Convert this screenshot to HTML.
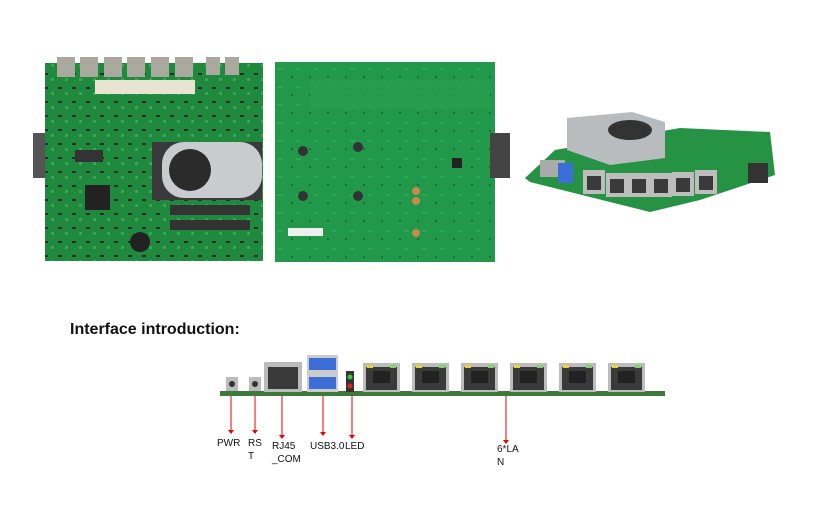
<!DOCTYPE html>
<html><head><meta charset="utf-8"><style>
html,body{margin:0;padding:0;background:#fff;width:826px;height:505px;overflow:hidden}
svg{display:block}
text{font-family:"Liberation Sans",sans-serif}
</style></head><body>
<svg width="826" height="505" viewBox="0 0 826 505" xmlns="http://www.w3.org/2000/svg">
<defs>
<pattern id="pcb" width="14" height="14" patternUnits="userSpaceOnUse">
<rect width="14" height="14" fill="#1f8a3e"/>
<rect x="2" y="3" width="4" height="2" fill="#2a2a2a"/>
<rect x="9" y="8" width="3" height="3" fill="#3aa357"/>
</pattern>
<pattern id="pcb2" width="18" height="18" patternUnits="userSpaceOnUse">
<rect width="18" height="18" fill="#22994a"/>
<rect x="3" y="4" width="2" height="2" fill="#1c6f36"/>
<rect x="8" y="14" width="5" height="2" fill="#2aa955"/>
</pattern>
<g id="rj">
<rect x="0" y="0" width="37" height="29" fill="#bcbcbc"/>
<rect x="3" y="4" width="31" height="23" fill="#3a3a3a"/>
<rect x="10" y="8" width="17" height="12" fill="#222"/>
<rect x="4" y="2" width="6" height="3" fill="#e8d33a"/>
<rect x="27" y="2" width="6" height="3" fill="#7fd66a"/>
</g>
</defs>

<!-- Board 1 -->
<rect x="33" y="133" width="17" height="45" fill="#555"/>
<rect x="45" y="63" width="218" height="198" fill="url(#pcb)"/>
<g fill="#a9a9a0">
<rect x="57" y="57" width="18" height="20"/><rect x="80" y="57" width="18" height="20"/><rect x="104" y="57" width="18" height="20"/><rect x="127" y="57" width="18" height="20"/><rect x="151" y="57" width="18" height="20"/><rect x="175" y="57" width="18" height="20"/>
<rect x="206" y="57" width="14" height="18"/><rect x="225" y="57" width="14" height="18"/>
</g>
<rect x="95" y="80" width="100" height="14" fill="#e9e3d2"/>
<rect x="152" y="142" width="110" height="58" fill="#3a3a3a"/>
<rect x="162" y="142" width="100" height="56" fill="#c9cbce" rx="22"/>
<circle cx="190" cy="170" r="21" fill="#2b2b2b"/>
<rect x="170" y="205" width="80" height="10" fill="#333"/>
<rect x="170" y="220" width="80" height="10" fill="#333"/>
<circle cx="140" cy="242" r="10" fill="#222"/>
<rect x="75" y="150" width="28" height="12" fill="#333"/>
<rect x="85" y="185" width="25" height="25" fill="#222"/>

<!-- Board 2 -->
<rect x="275" y="62" width="220" height="200" fill="url(#pcb2)"/>
<rect x="490" y="133" width="20" height="45" fill="#444"/>
<rect x="310" y="80" width="180" height="30" fill="#2a9c4d" opacity=".7"/>
<circle cx="303" cy="151" r="5" fill="#333"/><circle cx="358" cy="147" r="5" fill="#333"/>
<circle cx="303" cy="196" r="5" fill="#333"/><circle cx="358" cy="196" r="5" fill="#333"/>
<circle cx="416" cy="191" r="4" fill="#c68a4a"/><circle cx="416" cy="201" r="4" fill="#c68a4a"/><circle cx="416" cy="233" r="4" fill="#c68a4a"/>
<rect x="452" y="158" width="10" height="10" fill="#222"/>
<rect x="288" y="228" width="35" height="8" fill="#eee"/>

<!-- Board 3 -->
<polygon points="525,178 555,150 680,128 770,132 775,175 700,200 650,212 530,182" fill="#259244"/>
<polygon points="567,118 632,112 665,122 665,158 610,165 567,150" fill="#b9bcbf"/>
<ellipse cx="630" cy="130" rx="22" ry="10" fill="#333"/>
<rect x="748" y="163" width="20" height="20" fill="#333"/>
<rect x="540" y="160" width="25" height="17" fill="#aaa"/>
<rect x="558" y="163" width="15" height="20" fill="#3b6ed6"/>
<g fill="#bdbdbd">
<rect x="583" y="170" width="22" height="24"/><rect x="606" y="173" width="22" height="24"/><rect x="628" y="173" width="22" height="24"/><rect x="650" y="173" width="22" height="24"/><rect x="672" y="172" width="22" height="24"/><rect x="695" y="170" width="22" height="24"/>
</g>
<g fill="#3a3a3a">
<rect x="587" y="176" width="14" height="14"/><rect x="610" y="179" width="14" height="14"/><rect x="632" y="179" width="14" height="14"/><rect x="654" y="179" width="14" height="14"/><rect x="676" y="178" width="14" height="14"/><rect x="699" y="176" width="14" height="14"/>
</g>

<!-- Title -->
<text x="70" y="334" font-size="16" font-weight="bold" fill="#111">Interface introduction:</text>

<!-- Interface strip -->
<rect x="220" y="391" width="445" height="5" fill="#3d7a3a"/>
<rect x="226" y="377" width="12" height="14" fill="#bbb"/><circle cx="232" cy="384" r="3" fill="#333"/>
<rect x="249" y="377" width="12" height="14" fill="#bbb"/><circle cx="255" cy="384" r="3" fill="#333"/>
<rect x="264" y="362" width="38" height="30" fill="#bbb"/><rect x="268" y="367" width="30" height="22" fill="#3a3a3a"/>
<rect x="307" y="355" width="31" height="37" fill="#ccc"/>
<rect x="309" y="358" width="27" height="12" fill="#3b6ed6"/><rect x="309" y="377" width="27" height="12" fill="#3b6ed6"/>
<rect x="346" y="371" width="8" height="21" fill="#333"/><circle cx="350" cy="377" r="2.5" fill="#3c3"/><circle cx="350" cy="386" r="2.5" fill="#d22"/>
<use href="#rj" x="363" y="363"/><use href="#rj" x="412" y="363"/><use href="#rj" x="461" y="363"/>
<use href="#rj" x="510" y="363"/><use href="#rj" x="559" y="363"/><use href="#rj" x="608" y="363"/>

<g stroke="#e00" stroke-width="1">
<line x1="231" y1="396" x2="231" y2="431"/><line x1="255" y1="396" x2="255" y2="431"/>
<line x1="282" y1="396" x2="282" y2="436"/><line x1="323" y1="396" x2="323" y2="433"/>
<line x1="352" y1="396" x2="352" y2="436"/><line x1="506" y1="396" x2="506" y2="441"/>
</g>
<g fill="#e00">
<polygon points="228,430 234,430 231,434"/><polygon points="252,430 258,430 255,434"/>
<polygon points="279,435 285,435 282,439"/><polygon points="320,432 326,432 323,436"/>
<polygon points="349,435 355,435 352,439"/><polygon points="503,440 509,440 506,444"/>
</g>
<g font-size="10" fill="#111">
<text x="217" y="446">PWR</text>
<text x="248" y="446">RS</text><text x="248" y="459">T</text>
<text x="272" y="449">RJ45</text><text x="272" y="462">_COM</text>
<text x="310" y="449">USB3.0</text><text x="345" y="449">LED</text>
<text x="497" y="452">6*LA</text><text x="497" y="465">N</text>
</g>
</svg>
</body></html>
